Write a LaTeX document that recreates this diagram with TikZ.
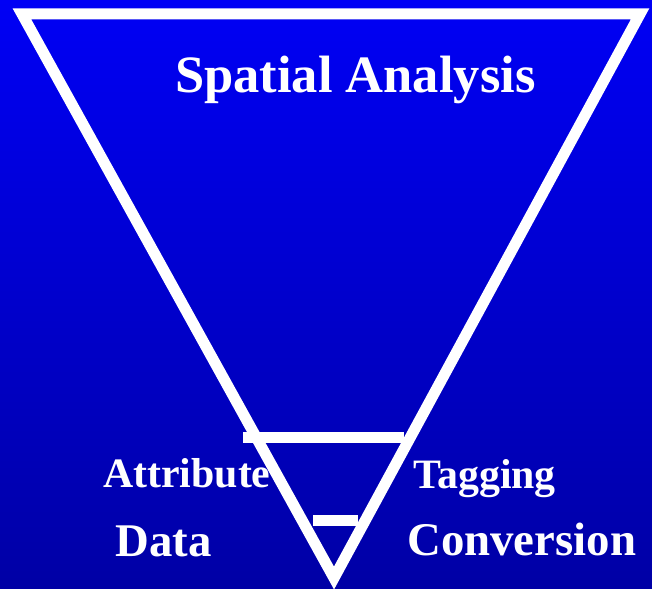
\documentclass[tikz,border=0pt]{standalone}
\usepackage{fontspec}
\setmainfont{Liberation Serif}
\usepackage{xcolor}
\usetikzlibrary{positioning}
\definecolor{topblue}{RGB}{0,0,245}
\definecolor{botblue}{RGB}{0,0,165}

\begin{document}
\begin{tikzpicture}[
      x=1bp, y=-1bp,
      lbl/.style={text=white, inner sep=0pt, anchor=base west,
                  font=\fontsize{42}{44}\selectfont\bfseries},
      biglbl/.style={lbl, font=\fontsize{47}{50}\selectfont\bfseries},
      title/.style={lbl, font=\fontsize{52.7}{56}\selectfont\bfseries},
      tri/.style={draw=white, line width=11bp, miter limit=10},
      bar/.style={fill=white},
    ]
    %% background
    \shade[top color=topblue, bottom color=botblue] (0,0) rectangle (652,589);
    \useasboundingbox (0,0) rectangle (652,589);

    %% funnel
    \draw[tri] (22,14) -- (640,14) -- (334,578) -- cycle;
    \fill[bar] (243,432) rectangle (404,443);
    \fill[bar] (313,515) rectangle (358,526);

    %% labels
    \node[title]  (spatial) at (175,93)  {Spatial Analysis};
    \node[lbl]    (attr)    at (103,487) {Attribute};
    \node[biglbl] (data)    at (115,556) {Data};
    \node[lbl]    (tag)     at (413,488) {Tagging};
    \node[biglbl] (conv)    at (407,555) {Conversion};
  \end{tikzpicture}
\end{document}
